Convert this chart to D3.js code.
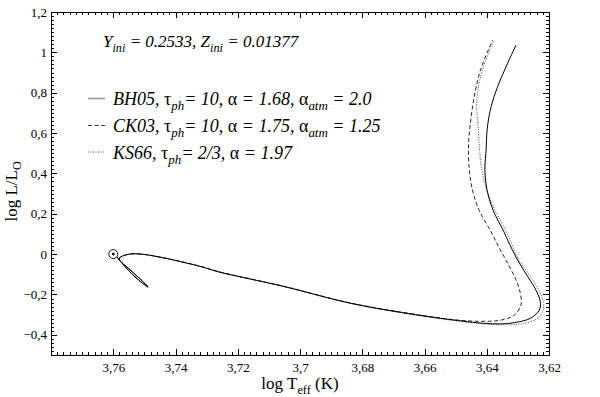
<!DOCTYPE html>
<html>
<head>
<meta charset="utf-8">
<script src="https://cdn.jsdelivr.net/npm/d3@7"></script>
<style>
  body { margin: 0; background: #fff; }
  svg { display: block; }
</style>
</head>
<body>
<svg id="chart" width="600" height="397"></svg>
<script>
// tracks in the HR diagram: [log Teff, log L/Lsun]
var bh05 = [
    [3.7588, -0.014], [3.7549, -0.084], [3.7511, -0.138], [3.7488, -0.163],
    [3.7517, -0.118], [3.7556, -0.064], [3.7582, -0.024], [3.7569, -0.009],
    [3.7543, 0.001], [3.7511, 0.000], [3.7456, -0.013], [3.7318, -0.062],
    [3.7264, -0.087], [3.7050, -0.161], [3.6836, -0.244], [3.6622, -0.302],
    [3.6461, -0.335], [3.6408, -0.343], [3.6354, -0.346], [3.6312, -0.340],
    [3.6258, -0.317], [3.6231, -0.277], [3.6228, -0.236], [3.6242, -0.178],
    [3.6268, -0.112], [3.6301, -0.029], [3.6333, 0.070], [3.6345, 0.111],
    [3.6380, 0.219], [3.6399, 0.318], [3.6406, 0.417], [3.6402, 0.516],
    [3.6399, 0.615], [3.6386, 0.731], [3.6365, 0.830], [3.6333, 0.946],
    [3.6306, 1.036]
];
var ck03 = [
    [3.7588, -0.014], [3.7549, -0.084], [3.7511, -0.138], [3.7488, -0.163],
    [3.7517, -0.118], [3.7556, -0.064], [3.7582, -0.024], [3.7569, -0.009],
    [3.7543, 0.001], [3.7511, 0.000], [3.7456, -0.013], [3.7318, -0.061],
    [3.7264, -0.086], [3.7050, -0.160], [3.6836, -0.243], [3.6622, -0.300],
    [3.6500, -0.326], [3.6418, -0.333], [3.6354, -0.327], [3.6311, -0.302],
    [3.6290, -0.252], [3.6292, -0.194], [3.6306, -0.128], [3.6333, -0.045],
    [3.6362, 0.037], [3.6386, 0.111], [3.6425, 0.219], [3.6446, 0.318],
    [3.6456, 0.417], [3.6459, 0.516], [3.6455, 0.615], [3.6442, 0.764],
    [3.6420, 0.913], [3.6381, 1.061]
];
var ks66 = [
    [3.7588, -0.014], [3.7549, -0.084], [3.7511, -0.138], [3.7488, -0.163],
    [3.7517, -0.118], [3.7556, -0.064], [3.7582, -0.024], [3.7569, -0.009],
    [3.7543, 0.001], [3.7511, 0.000], [3.7456, -0.013], [3.7318, -0.062],
    [3.7264, -0.087], [3.7050, -0.162], [3.6836, -0.245], [3.6622, -0.304],
    [3.6461, -0.338], [3.6408, -0.346], [3.6354, -0.350], [3.6290, -0.346],
    [3.6245, -0.325], [3.6220, -0.285], [3.6218, -0.240], [3.6232, -0.180],
    [3.6260, -0.110], [3.6300, -0.020], [3.6325, 0.070], [3.6337, 0.111],
    [3.6374, 0.219], [3.6400, 0.318], [3.6416, 0.417], [3.6423, 0.516],
    [3.6427, 0.615], [3.6432, 0.764], [3.6414, 0.913], [3.6377, 1.060]
];
var sun = [3.76, 0];

var xTicks = [3.76, 3.74, 3.72, 3.70, 3.68, 3.66, 3.64, 3.62];
var yTicks = [-0.4, -0.2, 0, 0.2, 0.4, 0.6, 0.8, 1.0, 1.2];

var legendNames = [
    [["BH05, ", "n"], ["τ", "g"], ["ph", "s"], ["= 10, ", "n"], ["α", "g"], [" = 1.68, ", "n"], ["α", "g"], ["atm", "s"], [" = 2.0", "n"]],
    [["CK03, ", "n"], ["τ", "g"], ["ph", "s"], ["= 10, ", "n"], ["α", "g"], [" = 1.75, ", "n"], ["α", "g"], ["atm", "s"], [" = 1.25", "n"]],
    [["KS66, ", "n"], ["τ", "g"], ["ph", "s"], ["= 2/3, ", "n"], ["α", "g"], [" = 1.97", "n"]]
];
var composition = [["Y", "n"], ["ini", "s"], [" = 0.2533, Z", "n"], ["ini", "s"], [" = 0.01377", "n"]];

var serif = "'Times New Roman', Times, Tinos, serif";

var svg = d3.select("#chart").attr("font-family", serif);
var margin = {top: 12, right: 51, bottom: 42, left: 51},
    width = 600 - margin.left - margin.right,
    height = 397 - margin.top - margin.bottom;

var g = svg.append("g")
    .attr("transform", "translate(" + margin.left + "," + margin.top + ")");

var x = d3.scaleLinear().domain([3.78, 3.62]).range([0, width]);
var y = d3.scaleLinear().domain([-0.5, 1.2]).range([height, 0]);

function comma(d) {
    return d3.format("~g")(+d.toFixed(2)).replace(".", ",");
}

var xMinor = d3.range(0, 81).map(function (i) { return 3.78 - i * 0.002; });
var yMinor = d3.range(0, 86).map(function (i) { return -0.5 + i * 0.02; });

// minor ticks, all four sides, pointing inward
g.append("g").attr("class", "tk").attr("transform", "translate(0," + height + ")")
    .call(d3.axisBottom(x).tickValues(xMinor).tickSize(-3).tickFormat(""));
g.append("g").attr("class", "tk")
    .call(d3.axisTop(x).tickValues(xMinor).tickSize(-3).tickFormat(""));
g.append("g").attr("class", "tk")
    .call(d3.axisLeft(y).tickValues(yMinor).tickSize(-3).tickFormat(""));
g.append("g").attr("class", "tk").attr("transform", "translate(" + width + ",0)")
    .call(d3.axisRight(y).tickValues(yMinor).tickSize(-3).tickFormat(""));

// major ticks with labels
g.append("g").attr("class", "tk lab").attr("transform", "translate(0," + height + ")")
    .call(d3.axisBottom(x).tickValues(xTicks).tickSize(-6).tickPadding(8).tickFormat(comma));
g.append("g").attr("class", "tk")
    .call(d3.axisTop(x).tickValues(xTicks).tickSize(-6).tickFormat(""));
g.append("g").attr("class", "tk lab")
    .call(d3.axisLeft(y).tickValues(yTicks).tickSize(-6).tickPadding(4).tickFormat(comma));
g.append("g").attr("class", "tk").attr("transform", "translate(" + width + ",0)")
    .call(d3.axisRight(y).tickValues(yTicks).tickSize(-6).tickFormat(""));

g.selectAll(".tk").attr("font-family", serif);
g.selectAll(".tk .domain").remove();
g.selectAll(".tk line").attr("stroke", "#000").attr("stroke-width", 1).attr("shape-rendering", "crispEdges");
g.selectAll(".lab text").attr("font-family", serif).attr("font-size", 13).attr("fill", "#000");

g.append("rect")
    .attr("width", width).attr("height", height)
    .attr("fill", "none").attr("stroke", "#000").attr("shape-rendering", "crispEdges");

var line = d3.line()
    .x(function (d) { return x(d[0]); })
    .y(function (d) { return y(d[1]); })
    .curve(d3.curveCatmullRom.alpha(0.5));

g.append("path").datum(ks66).attr("d", line)
    .attr("fill", "none").attr("stroke", "#333").attr("stroke-width", 0.9).attr("stroke-dasharray", "1,1.5");
g.append("path").datum(ck03).attr("d", line)
    .attr("fill", "none").attr("stroke", "#111").attr("stroke-width", 0.9).attr("stroke-dasharray", "4,2.5");
g.append("path").datum(bh05).attr("d", line)
    .attr("fill", "none").attr("stroke", "#000").attr("stroke-width", 1);

// solar symbol
g.append("circle").attr("cx", x(sun[0])).attr("cy", y(sun[1])).attr("r", 4.5)
    .attr("fill", "none").attr("stroke", "#000").attr("stroke-width", 0.9);
g.append("circle").attr("cx", x(sun[0])).attr("cy", y(sun[1])).attr("r", 1.4).attr("fill", "#000");

function rich(sel, parts, size) {
    var shifted = false;
    parts.forEach(function (p) {
        var t = sel.append("tspan").text(p[0]);
        if (p[1] === "s") {
            t.attr("font-size", size * 0.72).attr("dy", shifted ? 0 : 5);
            shifted = true;
        } else {
            if (shifted) t.attr("dy", -5);
            shifted = false;
            if (p[1] === "g") t.attr("font-style", "normal");
        }
    });
}

var comp = svg.append("text").attr("x", 103).attr("y", 46.5)
    .attr("font-family", serif).attr("font-size", 17).attr("font-style", "italic");
rich(comp, composition, 17);

var legendY = [98.5, 125.5, 152];
var dashes = [null, "4,2.5", "1,1.5"];
var legendColors = ["#999", "#222", "#444"];
legendNames.forEach(function (parts, i) {
    svg.append("line")
        .attr("x1", 88).attr("x2", 105)
        .attr("y1", legendY[i]).attr("y2", legendY[i])
        .attr("stroke", legendColors[i])
        .attr("stroke-width", i === 0 ? 1.6 : 0.9)
        .attr("stroke-dasharray", dashes[i]);
    var t = svg.append("text").attr("x", 113).attr("y", legendY[i] + 6.5)
        .attr("font-family", serif).attr("font-size", 18).attr("font-style", "italic");
    rich(t, parts, 18);
});

// axis titles
var xt = svg.append("text").attr("x", margin.left + width / 2).attr("y", 389)
    .attr("font-family", serif).attr("text-anchor", "middle").attr("font-size", 17);
rich(xt, [["log T", "n"], ["eff", "s"], [" (K)", "n"]], 17);

var yt = svg.append("text")
    .attr("transform", "translate(17," + (margin.top + height / 2 + 8) + ") rotate(-90)")
    .attr("font-family", serif).attr("text-anchor", "middle").attr("font-size", 17);
yt.append("tspan").text("log L/L");
yt.append("tspan").text("O").attr("font-size", 12).attr("dy", 4);
</script>
</body>
</html>
